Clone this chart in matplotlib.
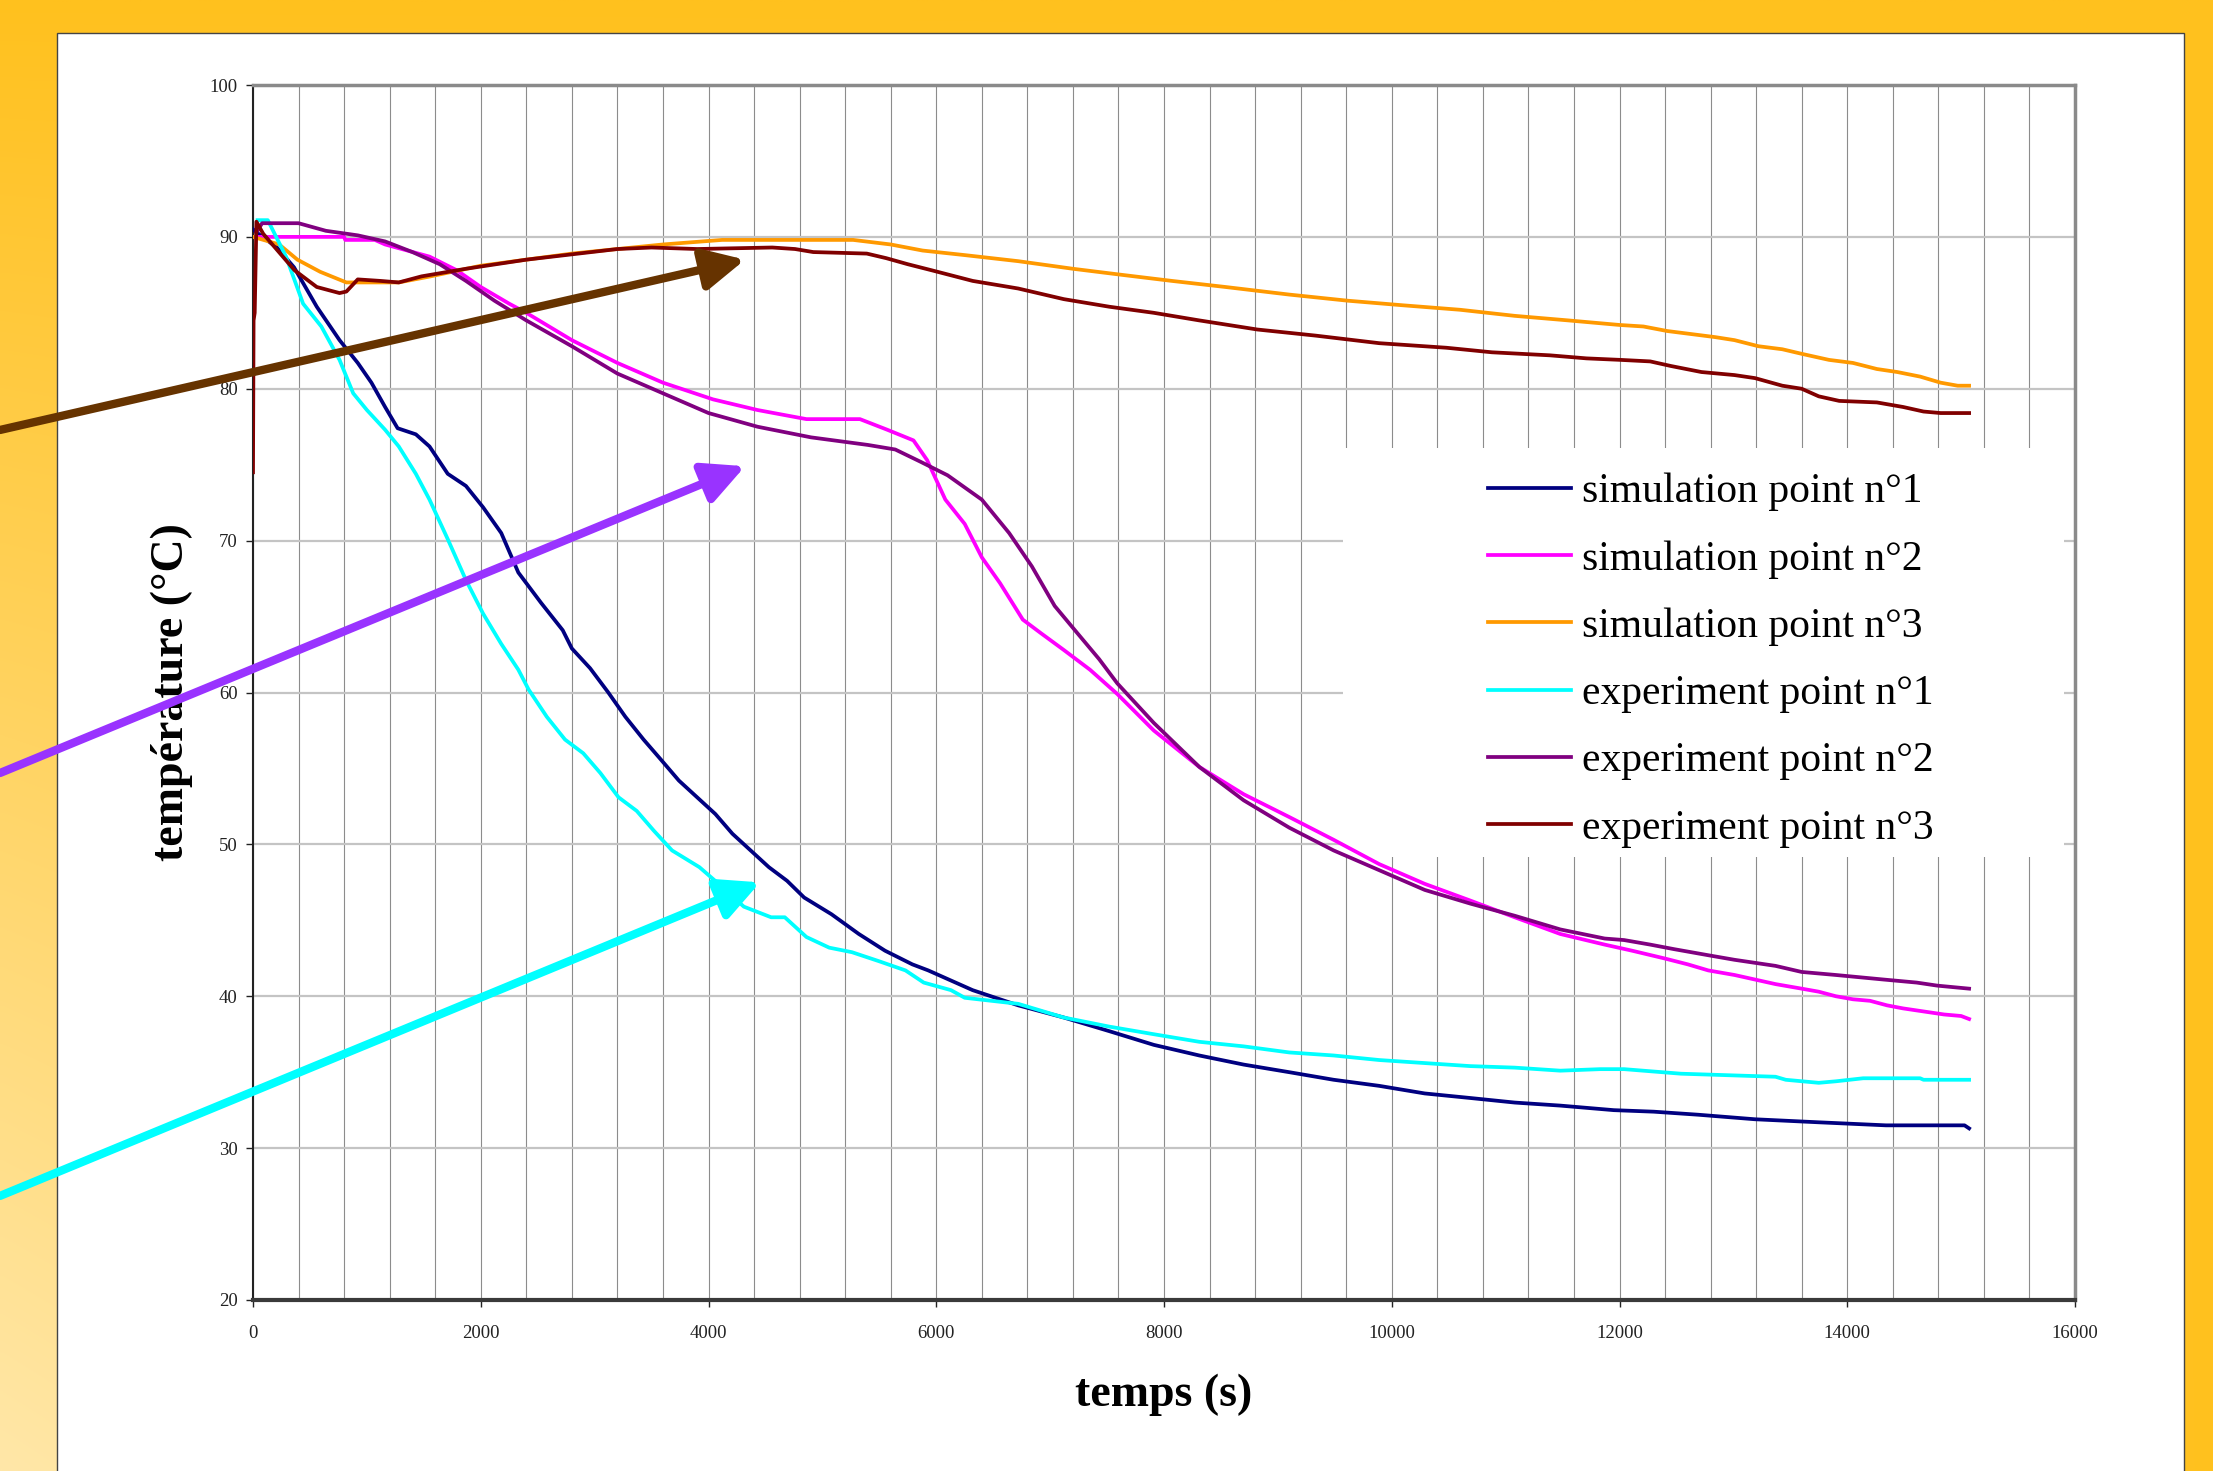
import numpy as np
import matplotlib
matplotlib.use('Agg')
import matplotlib.pyplot as plt
from matplotlib.patches import Rectangle
from matplotlib.ticker import MultipleLocator

plt.rcParams['font.family'] = ['Liberation Serif', 'DejaVu Serif']

# ---------------- data ----------------
sim1_t = [0, 30, 210, 360, 560, 760, 920, 1040, 1160, 1270, 1430, 1550, 1710, 1870, 2020,
          2180, 2330, 2530, 2720, 2800, 2960, 3120, 3270, 3430, 3580, 3740, 3900, 4060, 4210,
          4370, 4530, 4690, 4840, 5080, 5320, 5550, 5790, 5930, 6110, 6320, 6720, 7120, 7520,
          7910, 8310, 8700, 9100, 9490, 9890, 10290, 10690, 11080, 11480, 11950, 12300, 12690,
          13190, 13750, 14340, 15030, 15070]
sim1_T = [90.5, 90.3, 89.3, 88.0, 85.4, 83.2, 81.7, 80.4, 78.8, 77.4, 77.0, 76.2, 74.4, 73.6, 72.2,
          70.5, 67.9, 65.9, 64.1, 62.9, 61.6, 60.0, 58.4, 56.9, 55.6, 54.2, 53.1, 52.0, 50.7,
          49.6, 48.5, 47.6, 46.5, 45.4, 44.1, 43.0, 42.1, 41.7, 41.1, 40.4, 39.4, 38.6, 37.7,
          36.8, 36.1, 35.5, 35.0, 34.5, 34.1, 33.6, 33.3, 33.0, 32.8, 32.5, 32.4, 32.2,
          31.9, 31.7, 31.5, 31.5, 31.3]

sim2_t = [0, 800, 810, 1070, 1160, 1550, 1790, 2000, 2250, 2400, 2800, 3200, 3600, 4040, 4430,
          4860, 5330, 5570, 5800, 5920, 6080, 6250, 6400, 6560, 6760, 6920, 7120, 7350, 7590,
          7910, 8310, 8700, 9100, 9490, 9890, 10290, 10690, 11080, 11480, 11870, 12110, 12390,
          12600, 12780, 13010, 13190, 13370, 13600, 13750, 13900, 14050, 14200, 14350, 14490,
          14670, 14850, 15000, 15070]
sim2_T = [90.0, 90.0, 89.8, 89.8, 89.5, 88.7, 87.8, 86.7, 85.6, 85.0, 83.2, 81.7, 80.4, 79.3, 78.6,
          78.0, 78.0, 77.3, 76.6, 75.3, 72.7, 71.1, 68.9, 67.2, 64.8, 63.9, 62.8, 61.5, 59.9,
          57.5, 55.1, 53.3, 51.8, 50.3, 48.7, 47.4, 46.3, 45.2, 44.1, 43.4, 43.0, 42.5,
          42.1, 41.7, 41.4, 41.1, 40.8, 40.5, 40.3, 40.0, 39.8, 39.7, 39.4, 39.2,
          39.0, 38.8, 38.7, 38.5]

sim3_t = [0, 230, 390, 590, 820, 1280, 1560, 2000, 2400, 2800, 3200, 3600, 4120, 5270, 5600,
          5880, 6250, 6720, 7200, 7630, 8070, 8540, 9100, 9610, 10090, 10600, 11080, 11550,
          12000, 12210, 12420, 12630, 12840, 13010, 13220, 13430, 13600, 13840, 14050, 14260,
          14440, 14640, 14820, 14970, 15070]
sim3_T = [90.0, 89.5, 88.5, 87.7, 87.0, 87.0, 87.4, 88.1, 88.5, 88.9, 89.2, 89.5, 89.8, 89.8, 89.5,
          89.1, 88.8, 88.4, 87.9, 87.5, 87.1, 86.7, 86.2, 85.8, 85.5, 85.2, 84.8, 84.5,
          84.2, 84.1, 83.8, 83.6, 83.4, 83.2, 82.8, 82.6, 82.3, 81.9, 81.7, 81.3,
          81.1, 80.8, 80.4, 80.2, 80.2]

exp1_t = [40, 130, 290, 440, 600, 760, 880, 1000, 1160, 1280, 1430, 1550, 1710, 1870, 2020,
          2180, 2330, 2420, 2580, 2740, 2900, 3050, 3210, 3370, 3520, 3680, 3920, 4120, 4310,
          4550, 4670, 4860, 5060, 5260, 5500, 5730, 5890, 6130, 6250, 6720, 7120, 7520, 7910,
          8310, 8700, 9100, 9490, 9890, 10290, 10690, 11080, 11480, 11830, 12040, 12540, 13370,
          13460, 13750, 13900, 14140, 14640, 14670, 15070]
exp1_T = [91.1, 91.1, 88.7, 85.6, 84.1, 81.9, 79.7, 78.6, 77.3, 76.2, 74.4, 72.7, 70.1, 67.4, 65.2,
          63.2, 61.5, 60.2, 58.4, 56.9, 56.0, 54.7, 53.1, 52.2, 50.9, 49.6, 48.5, 47.2, 45.9,
          45.2, 45.2, 43.9, 43.2, 42.9, 42.3, 41.7, 40.9, 40.4, 39.9, 39.5, 38.6, 38.0, 37.5,
          37.0, 36.7, 36.3, 36.1, 35.8, 35.6, 35.4, 35.3, 35.1, 35.2, 35.2, 34.9, 34.7,
          34.5, 34.3, 34.4, 34.6, 34.6, 34.5, 34.5]

exp2_t = [30, 80, 400, 640, 920, 1160, 1400, 1640, 1870, 2120, 2400, 2800, 3200, 3600, 4000,
          4430, 4900, 5400, 5640, 5860, 6100, 6400, 6640, 6840, 7040, 7240, 7430, 7590, 7910,
          8310, 8700, 9100, 9490, 9890, 10290, 10690, 11080, 11480, 11870, 12040, 12270, 12480,
          12780, 13010, 13190, 13370, 13600, 13900, 14320, 14610, 14790, 15070]
exp2_T = [90.3, 90.9, 90.9, 90.4, 90.1, 89.7, 89.0, 88.2, 87.1, 85.8, 84.5, 82.8, 81.0, 79.7, 78.4,
          77.5, 76.8, 76.3, 76.0, 75.2, 74.3, 72.7, 70.5, 68.3, 65.7, 63.9, 62.2, 60.6, 58.0,
          55.1, 52.9, 51.1, 49.6, 48.3, 47.0, 46.1, 45.3, 44.4, 43.8, 43.7, 43.4, 43.1,
          42.7, 42.4, 42.2, 42.0, 41.6, 41.4, 41.1, 40.9, 40.7, 40.5]

exp3_t = [0, 5, 15, 30, 90, 365, 560, 760, 820, 920, 1120, 1280, 1480, 1870, 2400, 3200, 3500,
          3900, 4560, 4760, 4920, 5390, 5560, 5750, 5960, 6320, 6720, 7120, 7520, 7910, 8310,
          8820, 9330, 9890, 10480, 10880, 11390, 11710, 12010, 12270, 12450, 12720, 13010,
          13190, 13430, 13600, 13750, 13930, 14260, 14490, 14670, 14820, 15070]
exp3_T = [74.5, 84.5, 85.0, 91.0, 90.2, 87.8, 86.7, 86.3, 86.4, 87.2, 87.1, 87.0, 87.4, 87.9, 88.5,
          89.2, 89.3, 89.2, 89.3, 89.2, 89.0, 88.9, 88.6, 88.2, 87.8, 87.1, 86.6, 85.9, 85.4,
          85.0, 84.5, 83.9, 83.5, 83.0, 82.7, 82.4, 82.2, 82.0, 81.9, 81.8, 81.5, 81.1, 80.9,
          80.7, 80.2, 80.0, 79.5, 79.2, 79.1, 78.8, 78.5, 78.4, 78.4]

series_labels = ['simulation point n°1', 'simulation point n°2', 'simulation point n°3',
                 'experiment point n°1', 'experiment point n°2', 'experiment point n°3']
series_colors = ['#000080', '#FF00FF', '#FF9900', '#00FFFF', '#800080', '#800000']

x_ticks = [0, 2000, 4000, 6000, 8000, 10000, 12000, 14000, 16000]
y_ticks = [20, 30, 40, 50, 60, 70, 80, 90, 100]

# annotation arrows: (tip time, tip temperature), start height (figure fraction), colour
arrow_tips = [(4321, 88.5), (4321, 74.9), (4453, 47.5)]
arrow_starts = [0.7077, 0.4745, 0.187]
arrow_colors = ['#663300', '#9933FF', '#00FFFF']

# ---------------- figure ----------------
W, H = 2213, 1471
fig = plt.figure(figsize=(W / 100, H / 100), dpi=100)

# gradient background
bg = fig.add_axes([0, 0, 1, 1], zorder=-10)
bg.axis('off')
yy, xx = np.mgrid[0:1:300j, 0:1:450j]
f = np.clip(yy * (1 - xx), 0, 1)
c0 = np.array([255, 193, 30]) / 255
c1 = np.array([255, 231, 168]) / 255
img = c0[None, None, :] * (1 - f[..., None]) + c1[None, None, :] * f[..., None]
bg.imshow(img, extent=[0, 1, 0, 1], origin='upper', aspect='auto', interpolation='bilinear')
bg.set_xlim(0, 1)
bg.set_ylim(0, 1)

# white panel
fig.add_artist(Rectangle((57 / W, -0.01), (2184 - 57) / W, 1.01 - 33 / H,
                         transform=fig.transFigure, facecolor='white',
                         edgecolor='#444444', lw=1.0, zorder=-5))

ax = fig.add_axes([253 / W, 1 - 1300 / H, (2075 - 253) / W, (1300 - 85) / H])
ax.set_xlim(0, 16000)
ax.set_ylim(20, 100)
ax.set_xticks(x_ticks)
ax.set_yticks(y_ticks)
ax.xaxis.set_minor_locator(MultipleLocator(400))
ax.set_axisbelow(True)
ax.grid(which='both', axis='x', color='#8c8c8c', lw=0.8)
ax.grid(which='major', axis='y', color='#c4c4c4', lw=1.6)
ax.tick_params(axis='x', which='minor', length=0)
ax.tick_params(axis='both', which='major', direction='out', length=5, width=1,
               labelsize=13.5, colors='#222222')
ax.tick_params(axis='x', pad=13)
ax.tick_params(axis='y', pad=6)

for s in ['top', 'right']:
    ax.spines[s].set_color('#8a8a8a')
    ax.spines[s].set_linewidth(2.5)
ax.spines['left'].set_color('#222222')
ax.spines['left'].set_linewidth(1.5)
ax.spines['bottom'].set_color('#3a3a3a')
ax.spines['bottom'].set_linewidth(3)

all_t = [sim1_t, sim2_t, sim3_t, exp1_t, exp2_t, exp3_t]
all_T = [sim1_T, sim2_T, sim3_T, exp1_T, exp2_T, exp3_T]
handles = []
for tt, TT, lab, col in zip(all_t, all_T, series_labels, series_colors):
    assert len(tt) == len(TT), lab
    h, = ax.plot(tt, TT, color=col, lw=2.7, label=lab, zorder=3)
    handles.append(h)

# white legend area
ax.add_patch(Rectangle((0.5982, 0.3646), 0.9940 - 0.5982, 0.7012 - 0.3646,
                       transform=ax.transAxes, facecolor='white', edgecolor='none', zorder=1))
leg = ax.legend(handles=handles, loc='center left', bbox_to_anchor=(0.6663, 0.5265),
                frameon=False, fontsize=30, borderpad=0, labelspacing=0.69,
                handlelength=2.0, handletextpad=0.27)

ax.set_xlabel('temps (s)', fontsize=33, fontweight='bold', labelpad=23)
ax.set_ylabel('température (°C)', fontsize=33, fontweight='bold', labelpad=12)

for (tx, ty), yf, col in zip(arrow_tips, arrow_starts, arrow_colors):
    ax.annotate('', xy=(tx, ty), xycoords='data', xytext=(0, yf), textcoords='figure fraction',
                arrowprops=dict(arrowstyle='-|>,head_length=1.0,head_width=0.5',
                                mutation_scale=25, color=col, lw=6,
                                shrinkA=0, shrinkB=0),
                annotation_clip=False, zorder=6)

fig.savefig('out.png', dpi=100)
